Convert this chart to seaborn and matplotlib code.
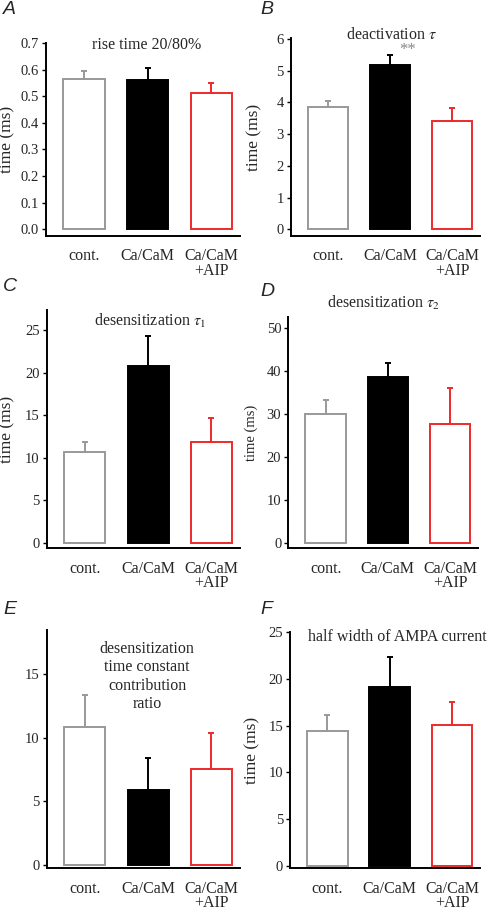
import numpy as np
import matplotlib
matplotlib.use("Agg")
import matplotlib.pyplot as plt
import seaborn as sns

groups = ["cont.", "Ca/CaM", "Ca/CaM\n+AIP"]

rise_mean = [0.564, 0.562, 0.514]
rise_sem = [0.032, 0.043, 0.035]

deact_mean = [3.87, 5.19, 3.43]
deact_sem = [0.19, 0.30, 0.38]

tau1_mean = [10.62, 20.77, 11.87]
tau1_sem = [1.25, 3.53, 2.73]

tau2_mean = [30.1, 38.6, 27.7]
tau2_sem = [3.1, 3.1, 8.4]

ratio_mean = [10.8, 5.88, 7.56]
ratio_sem = [2.56, 2.49, 2.82]

half_mean = [14.45, 19.14, 15.1]
half_sem = [1.65, 3.26, 2.45]

fills = ["white", "black", "white"]
edges = ["#999999", "black", "#ee2a2a"]

sns.set_style("ticks")
plt.rcParams["font.family"] = ["Liberation Serif", "DejaVu Serif"]
plt.rcParams["mathtext.fontset"] = "stix"

W, H = 491, 911
fig = plt.figure(figsize=(W / 100, H / 100), dpi=100)


def px_axes(l, r, t, b):
    return fig.add_axes([l / W, 1 - b / H, (r - l) / W, (b - t) / H])


def panel(box, mean, sem, ylim, yticks, fmt, title, tpos, ylab_x, ylab_size=12.5):
    ax = px_axes(*box)
    sns.barplot(x=groups, y=mean, ax=ax, errorbar=None, width=0.65, color="white")
    for i, p in enumerate(ax.patches):
        p.set_facecolor(fills[i])
        p.set_edgecolor(edges[i])
        p.set_linewidth(1.4)
        ax.errorbar(i, mean[i], yerr=[[0], [sem[i]]], color=edges[i],
                    elinewidth=1.4, capsize=2.2, capthick=1.4, zorder=1)
    ax.set_xlim(-0.6, 2.45)
    ax.set_ylim(*ylim)
    ax.set_yticks(yticks)
    ax.set_yticklabels([fmt.format(v) for v in yticks])
    for s in ["top", "right"]:
        ax.spines[s].set_visible(False)
    for s in ["left", "bottom"]:
        ax.spines[s].set_linewidth(1.4)
        ax.spines[s].set_color("black")
    ax.tick_params(axis="y", length=3, width=1, pad=2, labelsize=10.5, color="black")
    ax.tick_params(axis="x", length=0, pad=9, labelsize=11.5)
    for lab in ax.get_xticklabels():
        lab.set_linespacing(0.85)
    ax.set_xlabel("")
    if ylab_x is not None:
        ax.set_ylabel("time (ms)", fontsize=ylab_size)
        ax.yaxis.set_label_coords(ylab_x, 0.5)
    ax.text(tpos[0], tpos[1], title, transform=ax.transAxes, ha="center",
            va="center", fontsize=11.5, linespacing=1.2)
    return ax


axA = panel((46, 240, 43, 236), rise_mean, rise_sem, (-0.025, 0.7),
            np.arange(0, 0.71, 0.1), "{:.1f}", "rise time 20/80%", (0.52, 0.99), -0.16)
axB = panel((290.7, 480, 38, 236), deact_mean, deact_sem, (-0.21, 6.03),
            range(0, 7), "{:d}", r"deactivation $\tau$", (0.535, 1.015), -0.152)
axB.text(1.28, deact_mean[1] + deact_sem[1] + 0.16, "**", color="#888888",
         ha="center", va="center", fontsize=12)
panel((46.7, 240, 310, 548.3), tau1_mean, tau1_sem, (-0.66, 27.35),
      range(0, 26, 5), "{:d}", r"desensitization $\tau_1$", (0.534, 0.955), -0.16)
panel((288.3, 478, 316.7, 548.3), tau2_mean, tau2_sem, (-1.16, 52.55),
      range(0, 51, 10), "{:d}", r"desensitization $\tau_2$", (0.5, 1.06), -0.16, 10.5)
panel((46.7, 240, 630, 868.3), ratio_mean, ratio_sem, (-0.26, 18.45),
      range(0, 16, 5), "{:d}", "desensitization\ntime constant\ncontribution\nratio",
      (0.52, 0.805), None)
panel((290, 480, 631.7, 868.3), half_mean, half_sem, (-0.28, 25.06),
      range(0, 26, 5), "{:d}", "half width of AMPA current", (0.563, 0.978), -0.158)

for letter, x, y in [("A", 3, 1), ("B", 260, 1), ("C", 3, 278), ("D", 260, 283),
                     ("E", 3, 601), ("F", 260, 601)]:
    fig.text(x / W, 1 - y / H, letter, family="Liberation Sans", style="italic",
             fontsize=14, ha="left", va="top")

fig.savefig("out.png", dpi=100)
